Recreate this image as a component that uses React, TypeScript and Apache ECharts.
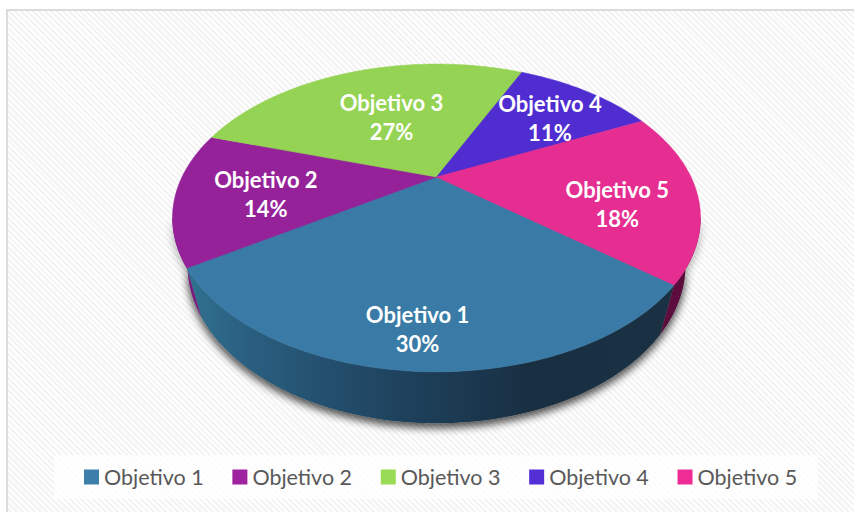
import React, { useEffect, useRef } from "react";
import * as echarts from "echarts";

const names = ["Objetivo 1", "Objetivo 2", "Objetivo 3", "Objetivo 4", "Objetivo 5"];
const values = [30, 14, 27, 11, 18];
const faceColors = ["#397BA6", "#96229A", "#94D353", "#4F2DD0", "#E62E92"];
const legendColors = ["#3D7FAA", "#9F239F", "#9ADB55", "#552FD6", "#EF2C96"];
const sideColors = ["#1F435C", "#7A1A80", "#6FA03F", "#3A2199", "#5C0D3E"];
const labelRadius = [0.83, 0.66, 0.51, 0.685, 0.7];
const labelClock = [184, 260, 337, 47, 105];

const START = 129;
const K = 0.266;
const TOP = { cx: 436.5, cy: 177, rx: 254.5, ry: 143 };
const BOTTOM = { cx: 436.5, cy: 223, rx: 240, ry: 147 };
const VISIBLE = [105, 255];

const total = values.reduce((a, b) => a + b, 0);

function project(clock: number, r: number, f: typeof TOP): number[] {
  const t = (clock * Math.PI) / 180;
  const X = r * Math.sin(t);
  const Y = -r * Math.cos(t);
  const d = 1 - K * Y;
  return [f.cx + (f.rx * X) / d, f.cy + (f.ry * Y) / d];
}

function arc(a: number, b: number, f: typeof TOP): number[][] {
  const pts: number[][] = [];
  const n = Math.max(2, Math.ceil(Math.abs(b - a)));
  for (let i = 0; i <= n; i++) pts.push(project(a + ((b - a) * i) / n, 1, f));
  return pts;
}

function sliceRange(i: number): number[] {
  let acc = 0;
  for (let j = 0; j < i; j++) acc += values[j];
  const a = START + (acc / total) * 360;
  return [a, a + (values[i] / total) * 360];
}

function sideRange(a: number, b: number): number[] | null {
  for (const off of [0, 360]) {
    const s = Math.max(a, VISIBLE[0] + off);
    const e = Math.min(b, VISIBLE[1] + off);
    if (e > s) return [s, e];
  }
  return null;
}

const sideGradient = new echarts.graphic.LinearGradient(
  190, 0, 660, 0,
  [
    { offset: 0, color: "#30708F" },
    { offset: 0.12, color: "#2A5F80" },
    { offset: 0.42, color: "#1F4460" },
    { offset: 0.72, color: "#182F42" },
    { offset: 1, color: "#193142" },
  ],
  true
);

function makeSeries(i: number) {
  return {
    type: "custom",
    name: names[i],
    coordinateSystem: "none",
    silent: true,
    itemStyle: { color: legendColors[i] },
    data: [[values[i]]],
    renderItem: () => {
      const [a, b] = sliceRange(i);
      const children: any[] = [];
      const sr = sideRange(a, b);
      if (sr) {
        const fill = i === 0 ? sideGradient : sideColors[i];
        children.push({
          type: "polygon",
          z2: 1,
          shape: { points: [...arc(sr[0], sr[1], TOP), ...arc(sr[1], sr[0], BOTTOM)] },
          style: { fill },
        });
      }
      children.push({
        type: "polygon",
        z2: 2,
        shape: { points: [[TOP.cx, TOP.cy], ...arc(a, b, TOP)] },
        style: { fill: faceColors[i], stroke: faceColors[i], lineWidth: 0.5 },
      });
      const p = project(labelClock[i], labelRadius[i], TOP);
      children.push({
        type: "text",
        z2: 3,
        x: p[0],
        y: p[1],
        style: {
          text: `${names[i]}\n${Math.round((values[i] / total) * 100)}%`,
          fill: "#FFFFFF",
          font: 'bold 22px Lato',
          lineHeight: 29,
          textAlign: "center",
          textVerticalAlign: "middle",
        },
      });
      return { type: "group", children };
    },
  };
}

const shadowStyle = {
  fill: "#888888",
  shadowColor: "rgba(0,0,0,0.45)",
  shadowBlur: 9,
  shadowOffsetX: 0,
  shadowOffsetY: 4,
};

const shadowSeries = {
  type: "custom",
  name: "sombra",
  coordinateSystem: "none",
  silent: true,
  data: [[0]],
  renderItem: () => ({
    type: "group",
    children: [
      {
        type: "polygon",
        shape: { points: [...arc(VISIBLE[0], VISIBLE[1], TOP), ...arc(VISIBLE[1], VISIBLE[0], BOTTOM)] },
        style: shadowStyle,
      },
      { type: "polygon", shape: { points: arc(0, 360, BOTTOM) }, style: shadowStyle },
    ],
  }),
};

export default function App() {
  const ref = useRef<HTMLDivElement>(null);
  useEffect(() => {
    const chart = echarts.init(ref.current!, undefined, { renderer: "svg" });
    chart.setOption({
      animation: false,
      legend: {
        data: names.map((n, i) => ({ name: n, itemStyle: { color: legendColors[i] } })),
        left: 54,
        top: 455,
        orient: "horizontal",
        icon: "rect",
        itemWidth: 15,
        itemHeight: 15,
        itemGap: 28.7,
        padding: [11, 21, 11, 30],
        backgroundColor: "rgba(255,255,255,0.72)",
        textStyle: { fontFamily: "Lato", fontSize: 21.5, color: "#595959" },
        selectedMode: false,
      },
      series: [shadowSeries, ...names.map((_, i) => makeSeries(i))],
    });
    return () => chart.dispose();
  }, []);
  return (
    <div style={{ position: "absolute", left: 0, top: 0, width: 854, height: 512, background: "#fff", overflow: "hidden" }}>
      <div
        style={{
          position: "absolute",
          left: 6,
          top: 9,
          width: 860,
          height: 520,
          borderLeft: "2px solid #dcdcdc",
          borderTop: "2px solid #dcdcdc",
          background: "repeating-linear-gradient(45deg, #ffffff 0 2.1px, #f3f3f3 2.1px 4.2px)",
        }}
      />
      <div ref={ref} style={{ position: "absolute", left: 0, top: 0, width: 854, height: 512 }} />
    </div>
  );
}
